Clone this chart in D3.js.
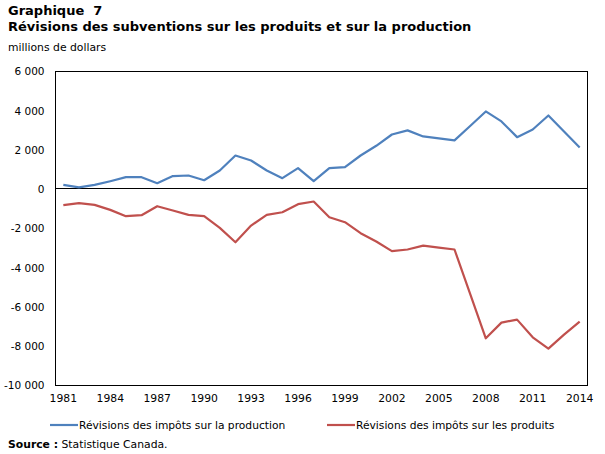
<!DOCTYPE html>
<html>
<head>
<meta charset="utf-8">
<script src="https://cdn.jsdelivr.net/npm/d3@7"></script>
<style>
body { margin: 0; background: #fff; }
text { font-family: "DejaVu Sans", Verdana, sans-serif; }
</style>
</head>
<body>
<svg width="605" height="454"></svg>
<script>
var years = [1981,1982,1983,1984,1985,1986,1987,1988,1989,1990,1991,1992,1993,1994,1995,1996,1997,
    1998,1999,2000,2001,2002,2003,2004,2005,2006,2007,2008,2009,2010,2011,2012,2013,2014];

var production = [220,100,220,410,615,615,310,670,700,460,955,1720,1465,955,565,1075,410,
    1075,1125,1720,2215,2790,3000,2690,2590,2490,3220,3965,3455,2655,3045,3760,2945,2130];

var produits = [-813,-710,-795,-1050,-1373,-1322,-863,-1083,-1305,-1373,-1968,-2700,-1850,-1305,-1170,-762,-625,
    -1424,-1679,-2240,-2665,-3155,-3070,-2870,-2970,-3070,-5330,-7594,-6796,-6643,-7545,-8122,-7408,-6745];

var yTicks = [6000,4000,2000,0,-2000,-4000,-6000,-8000,-10000];
var xTickYears = [1981,1984,1987,1990,1993,1996,1999,2002,2005,2008,2011,2014];

var seriesNames = ['Révisions des impôts sur la production','Révisions des impôts sur les produits'];
var colors = ['#4f81bd','#c0504d'];

var svg = d3.select('svg');

var plotLeft = 55.5, plotRight = 587.5, plotTop = 71.5, plotBottom = 385.5;

var scaleX = d3.scaleBand().domain(years).range([plotLeft,plotRight]);
var scaleY = d3.scaleLinear().domain([-10000,6000]).range([plotBottom,plotTop]);

// "6 000", "-10 000" with a plain hyphen
var fmt = function(v){
    return (v < 0 ? '-' : '') + d3.format(',')(Math.abs(v)).replace(/,/g,' ');
};

// titles
svg.append('text')
    .attr('x',8).attr('y',15)
    .attr('font-size',13).attr('font-weight','bold')
    .text('Graphique\u00a0 7');
svg.append('text')
    .attr('x',8).attr('y',31)
    .attr('font-size',13).attr('font-weight','bold')
    .text('Révisions des subventions sur les produits et sur la production');
svg.append('text')
    .attr('x',8).attr('y',51)
    .attr('font-size',10.8)
    .text('millions de dollars');

// frame
svg.append('rect')
    .attr('x',plotLeft).attr('y',plotTop)
    .attr('width',plotRight-plotLeft).attr('height',plotBottom-plotTop)
    .attr('fill','none').attr('stroke','#000').attr('stroke-width',1);

// zero line
svg.append('line')
    .attr('x1',plotLeft).attr('x2',plotRight)
    .attr('y1',Math.round(scaleY(0))-0.5).attr('y2',Math.round(scaleY(0))-0.5)
    .attr('stroke','#000').attr('stroke-width',1);

// y axis
var yAxis = svg.append('g')
    .attr('transform','translate('+plotLeft+',0)')
    .call(d3.axisLeft(scaleY).tickValues(yTicks).tickSize(0).tickPadding(11).tickFormat(fmt));
yAxis.select('.domain').remove();
yAxis.selectAll('text').attr('font-size',10.5).attr('fill','#000')
    .style('font-family','"DejaVu Sans", Verdana, sans-serif');

// x axis
var xAxis = svg.append('g')
    .attr('transform','translate(0,'+plotBottom+')')
    .call(d3.axisBottom(scaleX).tickValues(xTickYears).tickSize(0).tickPadding(9));
xAxis.select('.domain').remove();
xAxis.selectAll('text').attr('font-size',10.8).attr('fill','#000')
    .style('font-family','"DejaVu Sans", Verdana, sans-serif');

// lines
var line = d3.line()
    .x(function(d,i){ return scaleX(years[i]) + scaleX.bandwidth()/2; })
    .y(function(d){ return scaleY(d); });

[production, produits].forEach(function(s,i){
    svg.append('path')
        .datum(s)
        .attr('d',line)
        .attr('fill','none')
        .attr('stroke',colors[i])
        .attr('stroke-width',2.2)
        .attr('stroke-linejoin','round');
});

// legend
var legendX = [50,327];
seriesNames.forEach(function(n,i){
    svg.append('line')
        .attr('x1',legendX[i]).attr('x2',legendX[i]+28)
        .attr('y1',425).attr('y2',425)
        .attr('stroke',colors[i]).attr('stroke-width',2.2);
    svg.append('text')
        .attr('x',legendX[i]+29).attr('y',429)
        .attr('font-size',10.7)
        .text(n);
});

// source
var src = svg.append('text').attr('x',8).attr('y',448).attr('font-size',10.8);
src.append('tspan').attr('font-weight','bold').text('Source :');
src.append('tspan').text(' Statistique Canada.');
</script>
</body>
</html>
